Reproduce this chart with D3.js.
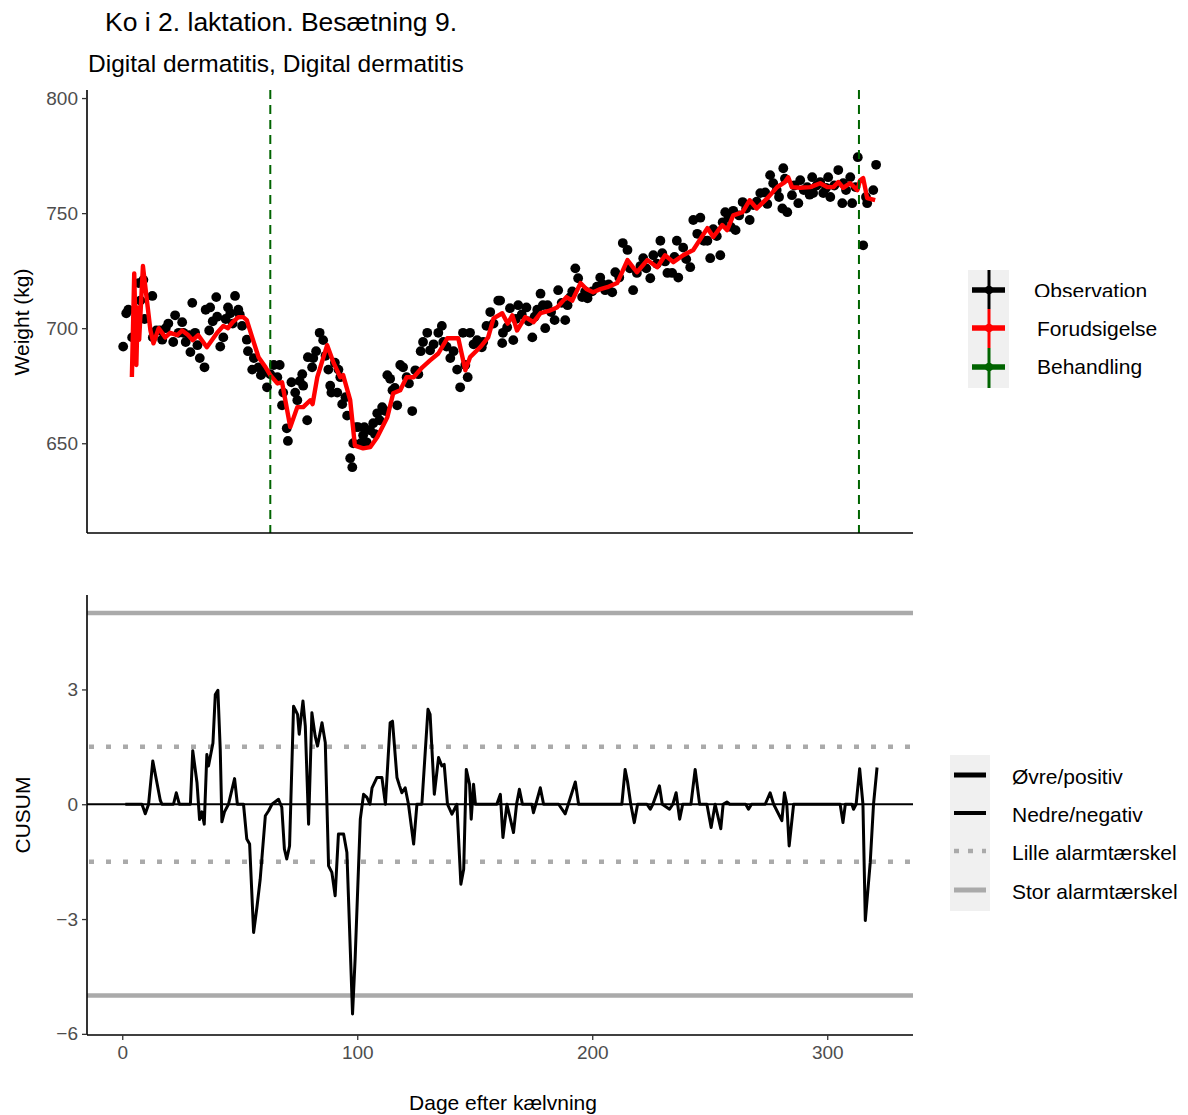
<!DOCTYPE html>
<html><head><meta charset="utf-8">
<script src="https://cdn.jsdelivr.net/npm/d3@7"></script>
<style>body{margin:0;background:#fff}text{font-family:"Liberation Sans",Arial,sans-serif}</style>
</head><body><svg id="c" width="1188" height="1115"></svg>
<script>
const obsDay=[0.4,1.7,2.6,4.2,7,7.7,9,9.5,12.8,13,14.5,16,17,18.5,19.6,21.7,22.5,24,25.5,26,27,28.5,29,29.8,31,32,33,35,35.5,37,37.4,38.5,40,40.4,41.7,43,44,45,46,47,48,49.4,50,51,53,53.5,55.3,56,58,59,60.5,61.6,63,64.5,66,67,68,68.5,70,70.5,72,73.6,74.5,75.5,76.6,77,78.7,79,80.8,81.3,82.5,84,85.5,86.5,87.7,88.5,89,90.5,91.5,92,92.8,93.6,95,95.7,97,97.9,98.3,99.5,100.4,101.5,102.5,103,104,105.5,106.8,107.5,108.5,109.5,110.6,112,112.8,114,115,116,117,118.3,119.5,121,122,123.4,124.7,126,127,128,129.8,131,132.5,134.5,136,136.6,138,139.6,141,142.5,143.8,145,146,147,148,149.5,151,153,153.6,155,156.6,158,160,160.8,161.7,162,163.8,165,166.4,167.5,168.5,170,172,173,174.5,175.5,176.6,178,179,180,181,182.5,184,185.5,187,188.5,189.5,190.6,191.5,192.8,194,195.7,197,198,200,202,203.4,204.5,205.5,207,208.5,209.8,211.5,213,215,216,217.4,219,220.5,221.7,223,224.7,226,227.5,229,229.8,231,232,234,235,236,236.6,238.7,240,241.7,243,244.7,246,247.5,249,250.2,251.5,253,254.5,255.5,256.6,258,259,260,261,262.5,264,265.5,267,268.5,270,271.5,273.6,274.5,275.7,277,278.5,279.5,280.9,281.3,282,283,285,286,287.7,288.5,290,291.5,292.5,293.6,294,295.5,297,298.3,299.5,300.4,301.3,303,304.7,306.4,306.8,308,309.8,310.6,312,313,315.3,316.5,317,319.6,320.8];
const obsWeight=[692,706.5,708,696,719.6,712,721,704,714,696,699,699,695,700,702,694,705.6,698,702.6,698,694,697,689.6,711,698,692.6,687,683,708,699,709,703,713.5,705,692,696,704,709,706.5,702,714,708,706,701,695,690,682,687,683,679.6,681,674.3,680,684,678.7,684,666.5,672,656.5,651,676.5,672,668.7,677,680,675,660,687.4,683,687,690,698,694.8,688,682,675,672,685,672,682,678.7,667,670,662,643.5,639.6,650,657,657,650,653.5,657,650.4,655.6,658.7,654,663,660,665.7,664,679.6,678,673,674,666.5,684,683,678.7,676,664,681.7,680,690,694,698,690.4,693,698,701,694,692,687,690,682,674.3,698,684,678.7,698,693,694.8,691.7,694,701,707,702,712,712,693.5,698,700.4,708.7,694.8,704,710,706,709,703,696,705,708,715,710,700,710,707,703.5,716.5,711,703.5,710,713.5,716,726,721.7,713.5,716,713,716,718,722,719,716.5,719,715.6,724.3,722,737,734,726,716.5,724,727,730.4,726,721.7,731.7,728,738,732.6,729,724,724,731,738,722,735,730,726.5,747,741,748,738,738,730.4,743,740,731.7,746,750.4,748,744,751,742.6,749,754.8,752,747,753.5,755,758.7,759,754,766.5,763,760,757,752,769.5,765,750.4,757.8,762,754.3,764.3,760,761.3,758,765.6,758.7,762,763.5,758.7,761,765.6,757,762,768.7,754.3,763,760,765.6,754.3,761.3,774.3,736,757,754.3,760,771];
const predDay=[4.1,5.1,6,6.6,7.2,8.8,10.5,12,13.3,15.5,18.3,20.4,23.4,25.5,28,30,32.3,36,40.4,43,45,47,49.4,51.5,53,55.3,58,61,63,66,68,71.5,74.5,77,80,81,83,87.2,90,92.8,94,97,99,102.5,105.5,108.5,112.8,115.3,118.3,121,124,127.7,131,134.5,138.3,143,146,148,152.3,155.7,158,161.7,164,166,168,171.5,175,178,181.5,185,189,191.5,195,197.5,200.4,203.5,206.4,210.6,215,219,223.4,227.7,231,234.5,238.7,243,249,251.5,255.3,257.4,260,264,267,270,274.5,278.7,282,283.4,285,288.5,292.8,297,300,302.6,304.7,306.8,309.8,312.8,314,315.3,317,320.4];
const predWeight=[678.8,723.8,684,709,695,727,712,699,693.4,700,696,698,697,699,697,694.8,697,691.7,698,701,700,702.6,704.8,704.8,703.5,696,687.4,683,679.6,676,676.5,657,665.7,665.7,668.7,667,678.7,692.6,684.8,678.7,679.6,668.7,649,647.8,648.3,652.6,661.3,671.7,673,678.7,678.7,683,686,689,695.6,695.6,681.7,687.4,691.7,696,704.3,706.5,702,705.6,699,704.8,702.6,706.5,707.5,709,713.5,712,719.6,717,715.6,717,717.8,719.6,729.6,724.3,729.6,726.5,731.7,728.7,731.7,734,743.5,739.6,744.8,742.6,749,750.4,755.6,752,756.5,761.3,763.5,765.6,761.3,761,761.3,763,761.3,761.3,763.5,761,763,760,764.3,765.2,756.5,755.6];
const treatDay=[63,313.5];
const cusumDay=[1.3,8.4,9.8,11.2,13,16.2,16.9,21.8,23,24.3,29,30,31.8,32.9,33.9,34.9,36,36.7,38.6,39.6,40.7,41.7,42.4,43.5,45.2,47.8,49,51.6,53,54.2,55.9,57.3,58.7,60.9,62.3,63.7,66.5,67.9,69,70,71.2,72.9,74.6,75.3,76.9,77.9,79.3,80.7,82.1,83.1,85,86.4,87.8,89.2,90.6,92,94.2,95.6,98,99.1,101.3,102.7,104.1,105.4,106.3,108.4,110.5,112,114,115,116.9,118,119,120.4,121.8,124,125.4,127.5,130.1,131,132.8,134.6,136,137,138.4,140.3,142.4,144.1,145.3,146.4,147.8,148.5,149.5,150.3,159.4,160.9,162,163.7,166.5,167.8,169,170.3,174.3,175,176,177.9,179.3,185.7,188.5,189.8,192.8,194.2,212.6,214,215,216.4,217.9,219.3,223.3,224.7,225.8,228.6,229.8,232.9,234.3,235.7,237.2,238.5,242,243.8,245.7,248.8,250.6,252.3,254.7,255.7,257.3,258.5,265.3,266.5,267.8,273.6,275.7,277.2,280.7,281.8,282.8,283.8,285.7,305.5,306.7,307.7,310.5,311.2,312.3,313.8,315.2,316.2,318.3,319.7,321.2];
const cusumValue=[0,0,-0.25,0,1.13,0.1,0,0,0.3,0,0,1.4,0.57,-0.4,-0.2,-0.52,1.3,1.0,1.6,2.87,2.98,1.43,-0.46,-0.2,0,0.67,0,0,-0.91,-1.04,-3.35,-2.7,-1.96,-0.3,-0.17,0,0.13,-0.08,-1.17,-1.43,-1.09,2.56,2.35,1.83,2.7,2.04,-0.52,2.39,1.78,1.52,2.13,1.61,-1.61,-1.78,-2.39,-0.78,-0.78,-1.26,-5.48,-4.04,-0.39,0.26,0.18,0,0.43,0.7,0.7,0,2.13,2.17,0.7,0.48,0.3,0.43,0,-1.04,0,0,2.48,2.35,0.26,1.22,1.0,1.04,0,-0.26,0,-2.09,-1.7,0.91,0.52,-0.39,0.52,0,0,0.26,-0.87,0,-0.74,0,0.39,0,0,-0.22,0,0.43,0,0,-0.25,0,0.58,0,0,0.91,0.6,0,-0.48,0,0,-0.13,0,0.48,0,-0.13,0,0.3,-0.39,0,0,0.91,0,0,-0.61,0,-0.64,0,0.06,0,0,-0.13,0,0,0.3,0,-0.43,0.3,0,-1.09,0,0,-0.48,0,0,-0.13,0,0.93,0,-3.04,-1.52,0,0.96];
const smallThreshold=[-1.5,1.5];
const largeThreshold=[-5,5];
const xTicks=[0,100,200,300];
const yTicksTop=[650,700,750,800];
const yTicksBottom=[-6,-3,0,3];
const topLegend=["Observation","Forudsigelse","Behandling"];
const topLegendColors=["#000000","#ff0000","#006400"];
const bottomLegend=["Øvre/positiv","Nedre/negativ","Lille alarmtærskel","Stor alarmtærskel"];

const svg=d3.select("#c");
const L=87,R=913;
const x=d3.scaleLinear().domain([-15,336.5]).range([L,R]);
const yTop=d3.scaleLinear().domain([611,803.5]).range([533,90]);
const yBot=d3.scaleLinear().domain([-6.03,5.52]).range([1035,593]);
const tickCol="#4d4d4d";

svg.append("text").attr("x",105).attr("y",31).attr("font-size",26.5).attr("fill","#000").text("Ko i 2. laktation. Besætning 9.");
svg.append("text").attr("x",88).attr("y",72).attr("font-size",24.5).attr("fill","#000").text("Digital dermatitis, Digital dermatitis");

// ---- top panel
const gTop=svg.append("g");
gTop.selectAll("circle.obs").data(obsDay.map((d,i)=>[d,obsWeight[i]])).join("circle")
  .attr("cx",d=>x(d[0])).attr("cy",d=>yTop(d[1])).attr("r",4.9).attr("fill","#000");
gTop.append("path").datum(predDay.map((d,i)=>[d,predWeight[i]]))
  .attr("d",d3.line().x(d=>x(d[0])).y(d=>yTop(d[1])))
  .attr("fill","none").attr("stroke","#ff0000").attr("stroke-width",4.4).attr("stroke-linejoin","round");
gTop.selectAll("line.tr").data(treatDay).join("line")
  .attr("x1",d=>x(d)).attr("x2",d=>x(d)).attr("y1",90).attr("y2",533)
  .attr("stroke","#006400").attr("stroke-width",2).attr("stroke-dasharray","9,6");
const axTopL=gTop.append("g").attr("transform",`translate(${L},0)`)
  .call(d3.axisLeft(yTop).tickValues(yTicksTop).tickSize(5).tickPadding(4));
axTopL.select(".domain").attr("d",`M0,90V533`).attr("stroke","#000").attr("stroke-width",1.6);
axTopL.selectAll(".tick line").attr("stroke","#333").attr("stroke-width",1.3);
axTopL.selectAll(".tick text").attr("font-size",19).attr("fill",tickCol).attr("font-family","Liberation Sans, Arial, sans-serif");
gTop.append("line").attr("x1",L).attr("x2",R).attr("y1",533).attr("y2",533).attr("stroke","#000").attr("stroke-width",1.6);
svg.append("text").attr("transform","translate(29,322) rotate(-90)").attr("text-anchor","middle").attr("font-size",21).text("Weight (kg)");

// ---- bottom panel
const gB=svg.append("g");
gB.selectAll("line.lg").data(largeThreshold).join("line")
  .attr("x1",L).attr("x2",R).attr("y1",d=>yBot(d)).attr("y2",d=>yBot(d))
  .attr("stroke","#aaaaaa").attr("stroke-width",4.5);
gB.selectAll("line.sm").data(smallThreshold).join("line")
  .attr("x1",L+2).attr("x2",R).attr("y1",d=>yBot(d)).attr("y2",d=>yBot(d))
  .attr("stroke","#aaaaaa").attr("stroke-width",4.5).attr("stroke-dasharray","5,12");
gB.append("line").attr("x1",L).attr("x2",R).attr("y1",yBot(0)).attr("y2",yBot(0)).attr("stroke","#000").attr("stroke-width",1.8);
gB.append("path").datum(cusumDay.map((d,i)=>[d,cusumValue[i]]))
  .attr("d",d3.line().x(d=>x(d[0])).y(d=>yBot(d[1])))
  .attr("fill","none").attr("stroke","#000").attr("stroke-width",3).attr("stroke-linejoin","round");
const axBL=gB.append("g").attr("transform",`translate(${L},0)`)
  .call(d3.axisLeft(yBot).tickValues(yTicksBottom).tickSize(5).tickPadding(4).tickFormat(d=>d<0?"\u2212"+Math.abs(d):d));
axBL.select(".domain").attr("d",`M0,595V1035`).attr("stroke","#000").attr("stroke-width",1.6);
axBL.selectAll(".tick line").attr("stroke","#333").attr("stroke-width",1.3);
axBL.selectAll(".tick text").attr("font-size",19).attr("fill",tickCol).attr("font-family","Liberation Sans, Arial, sans-serif");
const axBB=gB.append("g").attr("transform",`translate(0,1035)`)
  .call(d3.axisBottom(x).tickValues(xTicks).tickSize(5).tickPadding(6));
axBB.select(".domain").attr("d",`M${L},0H${R}`).attr("stroke","#000").attr("stroke-width",1.6);
axBB.selectAll(".tick line").attr("stroke","#333").attr("stroke-width",1.3);
axBB.selectAll(".tick text").attr("font-size",19).attr("fill",tickCol).attr("font-family","Liberation Sans, Arial, sans-serif");
svg.append("text").attr("transform","translate(30,815) rotate(-90)").attr("text-anchor","middle").attr("font-size",21).text("CUSUM");
svg.append("text").attr("x",503).attr("y",1110).attr("text-anchor","middle").attr("font-size",21).text("Dage efter kælvning");

// ---- top legend
const lg1=svg.append("g");
lg1.append("rect").attr("x",968).attr("y",270).attr("width",41).attr("height",118).attr("fill","#f0f0f0");
const keyTops=[270,309,348], keyMid=[290,328,367];
topLegend.forEach((t,i)=>{
  const c=topLegendColors[i];
  lg1.append("line").attr("x1",989).attr("x2",989).attr("y1",keyTops[i]).attr("y2",keyTops[i]+(i==2?40:39)).attr("stroke",c).attr("stroke-width",3);
  lg1.append("line").attr("x1",972).attr("x2",1005).attr("y1",keyMid[i]).attr("y2",keyMid[i]).attr("stroke",c).attr("stroke-width",5.5);
  lg1.append("circle").attr("cx",989).attr("cy",keyMid[i]).attr("r",4.3).attr("fill",c);
});
svg.append("defs").append("clipPath").attr("id","obsclip").append("rect").attr("x",1020).attr("y",270).attr("width",160).attr("height",27);
lg1.append("text").attr("x",1034).attr("y",291).attr("dy","0.35em").attr("font-size",21).attr("clip-path","url(#obsclip)").text(topLegend[0]);
lg1.append("text").attr("x",1037).attr("y",329).attr("dy","0.35em").attr("font-size",21).text(topLegend[1]);
lg1.append("text").attr("x",1037).attr("y",367).attr("dy","0.35em").attr("font-size",21).text(topLegend[2]);

// ---- bottom legend
const lg2=svg.append("g");
lg2.append("rect").attr("x",950).attr("y",755).attr("width",40).attr("height",156).attr("fill","#f0f0f0");
const bMid=[775,813,851,890];
const bStroke=["#000","#000","#aaaaaa","#aaaaaa"], bW=[5,4,4.5,5], bDash=[null,null,"5,9",null];
bottomLegend.forEach((t,i)=>{
  const ln=lg2.append("line").attr("x1",954).attr("x2",986).attr("y1",bMid[i]).attr("y2",bMid[i]).attr("stroke",bStroke[i]).attr("stroke-width",bW[i]);
  if(bDash[i]) ln.attr("stroke-dasharray",bDash[i]);
  lg2.append("text").attr("x",1012).attr("y",bMid[i]+2).attr("dy","0.35em").attr("font-size",21).text(t);
});
</script></body></html>
